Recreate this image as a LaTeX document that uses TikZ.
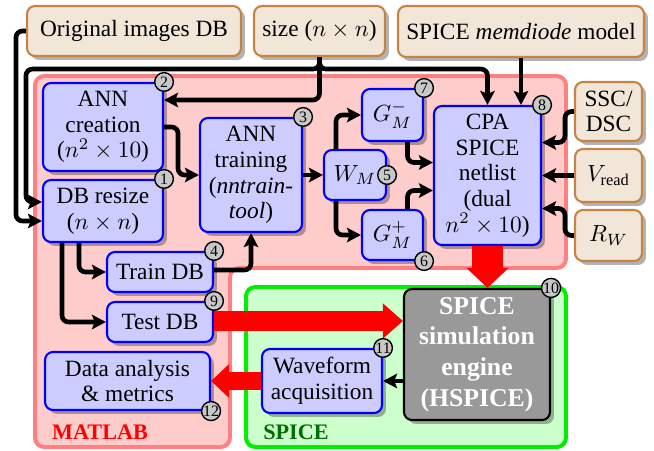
\documentclass[tikz,border=0pt]{standalone}
\usepackage{fontspec}
\setmainfont{Liberation Serif}
\usetikzlibrary{arrows.meta,shadows,calc}
\newdimen\pxu \pxu=0.4285pt
\definecolor{tanfill}{RGB}{242,230,216}
\definecolor{tanline}{RGB}{196,132,70}
\definecolor{bluefill}{RGB}{204,204,255}
\definecolor{pinkfill}{RGB}{255,204,204}
\definecolor{pinkline}{RGB}{255,128,128}
\definecolor{greenfill}{RGB}{204,255,204}
\definecolor{greenline}{RGB}{0,238,0}
\definecolor{badgefill}{RGB}{200,200,200}
\definecolor{enginefill}{RGB}{153,153,153}
\definecolor{spicegreen}{RGB}{0,110,0}
\tikzset{
  boxbase/.style={rounded corners=3.4pt, inner sep=0pt, align=center,
    font=\fontsize{10}{11}\selectfont,
    drop shadow={shadow xshift=1.7pt, shadow yshift=-1.7pt, fill=black, opacity=0.3}},
  tanbox/.style={boxbase, draw=tanline, fill=tanfill, line width=0.9pt},
  bluebox/.style={boxbase, draw=blue, fill=bluefill, line width=0.9pt},
  enginebox/.style={boxbase, draw=black, fill=enginefill, line width=0.9pt, text=white,
    font=\fontsize{11}{13.2}\selectfont\bfseries},
  badge/.style={circle, draw=black, fill=badgefill, line width=0.6pt, minimum size=8pt,
    inner sep=0pt, font=\fontsize{6.8}{7}\selectfont},
  arr/.style={line width=2pt, -{Stealth[length=6pt,width=6.2pt,inset=1.2pt]}, rounded corners=2.8pt},
  redarr/.style={draw=red, line cap=butt},
  matlabreg/.style={draw=pinkline, fill=pinkfill, line width=1.7pt, rounded corners=4pt},
  spicereg/.style={draw=greenline, fill=greenfill, line width=1.7pt, rounded corners=4pt},
  reglabel/.style={font=\fontsize{9.5}{11}\selectfont\bfseries}
}
\begin{document}
\begin{tikzpicture}[x=0.4285pt,y=-0.4285pt]
\useasboundingbox (0,0) rectangle (654,451);
% regions
\draw[matlabreg] (35,76) -- (566,76) -- (566,268) -- (230,268) -- (230,447) -- (35,447) -- cycle;
\draw[spicereg] (246,287) rectangle (566,447);
\node[reglabel, text=red] (lmatlab) at (100,432) {MATLAB};
\node[reglabel, text=spicegreen] (lspice) at (296,432) {SPICE};
% outside inputs
\node[tanbox, minimum width=214\pxu, minimum height=50\pxu] (orig) at (134,31) {Original images DB};
\node[tanbox, minimum width=131\pxu, minimum height=50\pxu] (size) at (319.5,31) {size ($n\times n$)};
\node[tanbox, minimum width=246\pxu, minimum height=51\pxu] (model) at (521,31.5) {SPICE \emph{memdiode} model};
\node[tanbox, minimum width=67\pxu, minimum height=59\pxu] (ssc) at (608.5,111.5) {SSC/\\DSC};
\node[tanbox, minimum width=67\pxu, minimum height=53\pxu] (vread) at (608.5,175.5) {$V_{\mathrm{read}}$};
\node[tanbox, minimum width=67\pxu, minimum height=51\pxu] (rw) at (608.5,235.5) {$R_W$};
% MATLAB boxes
\node[bluebox, minimum width=120\pxu, minimum height=88\pxu] (annc) at (103,127) {ANN\\creation\\($n^2\times 10$)};
\node[bluebox, minimum width=120\pxu, minimum height=62\pxu] (dbr) at (103,211) {DB resize\\($n\times n$)};
\node[bluebox, minimum width=102\pxu, minimum height=114\pxu] (annt) at (251,175) {ANN\\training\\(\textit{nntrain-}\\\textit{tool})};
\node[bluebox, minimum width=106\pxu, minimum height=40\pxu] (train) at (160,272) {Train DB};
\node[bluebox, minimum width=106\pxu, minimum height=40\pxu] (test) at (160,322) {Test DB};
\node[bluebox, minimum width=62\pxu, minimum height=50\pxu] (wm) at (355,175) {$W_M$};
\node[bluebox, minimum width=61\pxu, minimum height=52\pxu] (gm) at (392.5,115) {$G_M^-$};
\node[bluebox, minimum width=61\pxu, minimum height=50\pxu] (gp) at (392.5,235) {$G_M^+$};
\node[bluebox, minimum width=107\pxu, minimum height=139\pxu] (cpa) at (487.5,175.5) {CPA\\SPICE\\netlist\\(dual\\$n^2\times 10$)};
\node[bluebox, minimum width=165\pxu, minimum height=58\pxu] (data) at (127.5,381) {Data analysis\\\& metrics};
% SPICE boxes
\node[enginebox, minimum width=146\pxu, minimum height=131\pxu] (eng) at (477,354.5) {SPICE\\simulation\\engine\\(HSPICE)};
\node[bluebox, minimum width=120\pxu, minimum height=64\pxu] (wave) at (322,381) {Waveform\\acquisition};
% black connectors
\draw[arr] (orig.west) -- ++(-10,0) |- ($(dbr.west)+(0,10)$);
\draw[arr] (size.south) -- ++(0,12) -| ($(dbr.west)+(-16,-9)$) -- ($(dbr.west)+(0,-9)$);
\draw[arr] (size.south) |- ($(annc.east)+(0,-27)$);
\draw[arr] (size.south) -- ++(0,12) -| (cpa.north);
\draw[arr] (model.south) -- (model.south |- cpa.north);
\draw[arr] (ssc.west) -- ++(-9,0) |- ($(cpa.east)+(0,-33)$);
\draw[arr] (vread.west) -- (vread.west -| cpa.east);
\draw[arr] (rw.west) -- ++(-9,0) |- ($(cpa.east)+(0,33)$);
\draw[arr] (annc.east) -- ++(14,0) |- (annt.west);
\draw[arr] (annt.east) -- (wm.west);
\draw[arr] ($(wm.north)+(-19,0)$) |- (gm.west);
\draw[arr] ($(wm.south)+(-19,0)$) |- (gp.west);
\draw[arr] ($(gm.south)+(15,0)$) |- ($(cpa.west)+(0,-13)$);
\draw[arr] ($(gp.north)+(15,0)$) |- ($(cpa.west)+(0,15)$);
\draw[arr] ($(dbr.south)+(-24,0)$) |- (train.west);
\draw[arr] ($(dbr.south)+(-41,0)$) |- (test.west);
\draw[arr] ($(train.east)+(0,-2)$) -| (annt.south);
\draw[arr] (eng.west |- wave.east) -- (wave.east);
% red block arrows
\draw[redarr, line width=8.6pt, -{Triangle[length=8.6pt,width=14.6pt]}] ($(test.east)+(0,-1)$) -- ($(test.east -| eng.west)+(0,-1)$);
\draw[redarr, line width=12.9pt, -{Triangle[length=8.6pt,width=17.6pt]}] (cpa.south) -- (cpa.south |- eng.north);
\draw[redarr, line width=7.3pt, -{Triangle[length=7.7pt,width=14pt]}] (wave.west) -- (wave.west -| data.east);
% badges
\node[badge] (b1) at (dbr.north east) {1};
\node[badge] (b2) at (annc.north east) {2};
\node[badge] (b3) at (annt.north east) {3};
\node[badge] (b4) at (train.north east) {4};
\node[badge] (b5) at (wm.east) {5};
\node[badge] (b6) at (gp.south east) {6};
\node[badge] (b7) at (gm.north east) {7};
\node[badge] (b8) at (cpa.north east) {8};
\node[badge] (b9) at (test.north east) {9};
\node[badge] (b10) at (eng.north east) {10};
\node[badge] (b11) at (wave.north east) {11};
\node[badge] (b12) at (data.south east) {12};
\end{tikzpicture}
\end{document}
